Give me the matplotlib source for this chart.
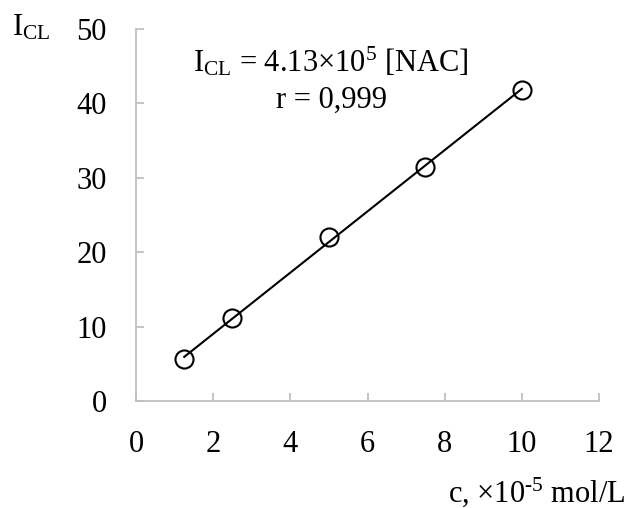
import numpy as np
import matplotlib
matplotlib.use("Agg")
import matplotlib.pyplot as plt

plt.rcParams['font.family'] = ['Liberation Serif', 'DejaVu Serif']
plt.rcParams['mathtext.fontset'] = 'custom'
plt.rcParams['mathtext.rm'] = 'Liberation Serif'
plt.rcParams['mathtext.it'] = 'Liberation Serif:italic'
plt.rcParams['mathtext.bf'] = 'Liberation Serif:bold'

conc = [1.25, 2.5, 5.0, 7.5, 10.0]
icl = [5.6, 11.1, 22.0, 31.5, 41.8]
x_ticks = [0, 2, 4, 6, 8, 10, 12]
y_ticks = [0, 10, 20, 30, 40, 50]

W, H = 629, 508
fig = plt.figure(figsize=(W / 100, H / 100), dpi=100)
ax = fig.add_axes([136 / W, 1 - 401 / H, (599 - 136) / W, (401 - 29) / H])

slope, intercept = np.polyfit(conc, icl, 1)
xf = np.array([min(conc), max(conc)])
ax.plot(xf, slope * xf + intercept, color='black', lw=1.5, zorder=2)
ax.plot(conc, icl, linestyle='none', marker='o', markersize=13,
        markerfacecolor='none', markeredgecolor='black', markeredgewidth=1.5, zorder=3)

ax.set_xlim(0, 12)
ax.set_ylim(0, 50)
ax.set_xticks(x_ticks)
ax.set_yticks(y_ticks)
for s in ['top', 'right']:
    ax.spines[s].set_visible(False)
for s in ['left', 'bottom']:
    ax.spines[s].set_color('#c0c0c0')
    ax.spines[s].set_linewidth(1.3)
ax.tick_params(axis='both', colors='#c0c0c0', labelcolor='black', labelsize=22,
               length=6, width=1.3, direction='in')
ax.tick_params(axis='x', pad=21)
ax.tick_params(axis='y', pad=21)

fs = 22
fig.text(331 / W, 1 - 62 / H, r'$\mathrm{I}_{\mathrm{CL}}$ = 4.13×10$^{5}$ [NAC]', fontsize=fs,
         ha='center', va='center')
fig.text(331 / W, 1 - 100 / H, 'r = 0,999', fontsize=fs, ha='center', va='center')
fig.text(12 / W, 1 - 28 / H, r'$\mathrm{I}_{\mathrm{CL}}$', fontsize=fs, ha='left', va='center')
fig.text(626 / W, 1 - 492 / H, 'c, ×10$^{\\mathrm{\u2010}5}$ mol/L', fontsize=fs,
         ha='right', va='center')

fig.savefig('out.png', dpi=100)
